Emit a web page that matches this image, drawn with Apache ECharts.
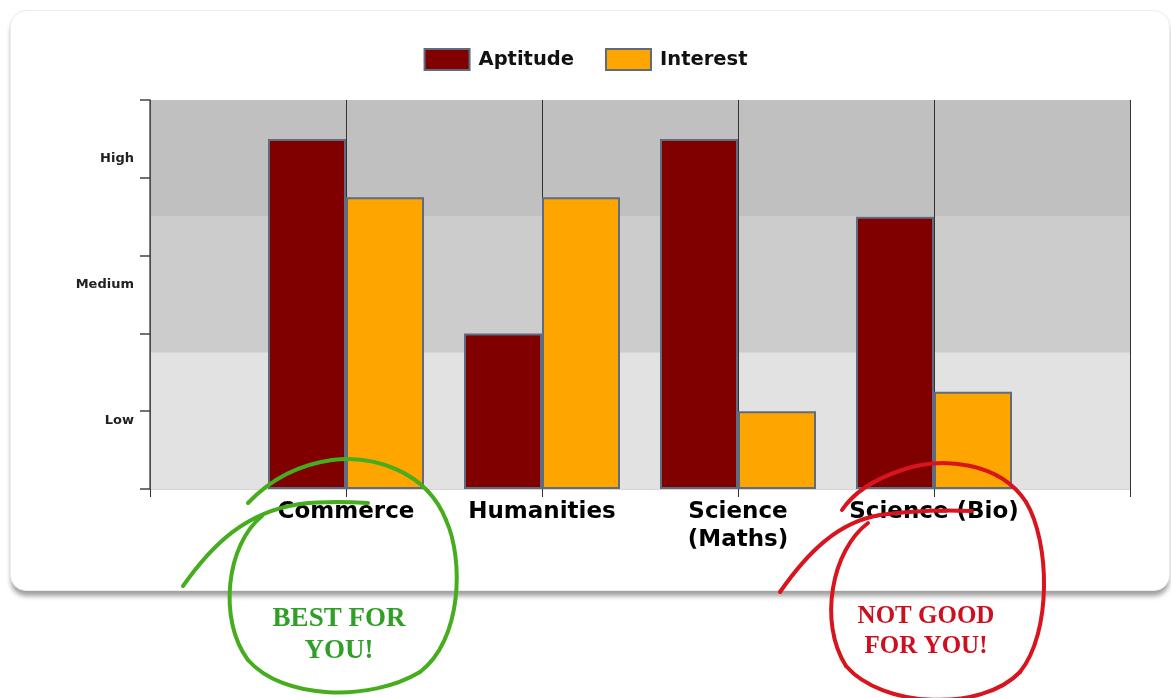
<!DOCTYPE html>
<html>
<head>
<meta charset="utf-8">
<script src="https://cdn.jsdelivr.net/npm/echarts@6/dist/echarts.min.js"></script>
<style>
  html, body { margin: 0; padding: 0; background: #ffffff; width: 1171px; height: 698px; overflow: hidden; }
  #card { position: absolute; left: 10px; top: 10px; width: 1158px; height: 579px; background: #fff;
          border: 1px solid #ececec; border-radius: 16px; box-shadow: 0 6px 5px -1px rgba(0,0,0,0.38); }
  #chart { position: absolute; left: 0; top: 0; width: 1171px; height: 698px; }
</style>
</head>
<body>
<div id="card"></div>
<div id="chart"></div>
<script>
// ---- data ----
const categories = ['Commerce', 'Humanities', 'Science\n(Maths)', 'Science (Bio)'];
const aptitude = [90, 40, 90, 70];
const interest = [75, 75, 20, 25];
const levelNames = ['Low', 'Medium', 'High'];
const levelBounds = [0, 35, 70, 100];
const levelLabelValues = [17.5, 52.5, 85];
const levelColors = ['#e3e2e3', '#cccccc', '#c0c0c0'];

// padded categories (empty slot at each end)
const cats = [''].concat(categories, ['']);
const pad = arr => [null].concat(arr, [null]);

const bands = levelNames.map((n, i) => [
  { yAxis: levelBounds[i], itemStyle: { color: levelColors[i] } },
  { yAxis: levelBounds[i + 1] }
]);

// hand-drawn annotation strokes -> bezier segments
function strokes(d, color) {
  const t = d.replace(/,/g, ' ').trim().split(/\s+/);
  const out = [];
  let i = 0, cx = 0, cy = 0, cmd = '';
  while (i < t.length) {
    if (/[MCL]/.test(t[i])) cmd = t[i++];
    const n = () => parseFloat(t[i++]);
    const st = { stroke: color, lineWidth: 4, fill: null, lineCap: 'round' };
    if (cmd === 'M') { cx = n(); cy = n(); }
    else if (cmd === 'C') {
      const a = n(), b = n(), c = n(), e = n(), x = n(), y = n();
      out.push({ type: 'bezierCurve', z: 100, silent: true,
        shape: { x1: cx, y1: cy, cpx1: a, cpy1: b, cpx2: c, cpy2: e, x2: x, y2: y }, style: st });
      cx = x; cy = y;
    } else if (cmd === 'L') {
      const x = n(), y = n();
      out.push({ type: 'line', z: 100, silent: true, shape: { x1: cx, y1: cy, x2: x, y2: y }, style: st });
      cx = x; cy = y;
    } else i++;
  }
  return out;
}

const green = '#46ad1f', red = '#d8141e';
const graphics = [].concat(
  strokes('M 183 586 C 212 545 245 512 300 504 C 325 501 350 502 368 503', green),
  strokes('M 262 516 C 226 545 218 620 248 660 C 283 700 370 702 420 672 C 462 640 464 560 446 520 C 426 470 372 455 332 460 C 296 465 268 482 248 503', green),
  strokes('M 780 592 C 808 552 838 522 880 515 C 915 510 950 510 972 511', red),
  strokes('M 868 523 C 832 550 818 622 846 666 C 882 708 982 712 1020 672 C 1052 632 1050 542 1026 502 C 1000 462 942 456 902 470 C 872 480 852 495 842 510', red),
  [
    { type: 'text', z: 100, x: 339, y: 635, silent: true,
      style: { text: 'BEST FOR\nYOU!', align: 'center', verticalAlign: 'middle',
               font: 'bold 27px "Liberation Serif"', lineHeight: 32, fill: '#2f9f27' } },
    { type: 'text', z: 100, x: 926, y: 632, silent: true,
      style: { text: 'NOT GOOD\nFOR YOU!', align: 'center', verticalAlign: 'middle',
               font: 'bold 25px "Liberation Serif"', lineHeight: 30, fill: '#cc1020' } }
  ]
);

const chart = echarts.init(document.getElementById('chart'));
const barBorder = '#5f6b7f';
chart.setOption({
  backgroundColor: 'transparent',
  animation: false,
  legend: {
    data: ['Aptitude', 'Interest'],
    top: 43,
    left: 'center',
    itemWidth: 45,
    itemHeight: 21,
    itemGap: 31,
    icon: 'rect',
    textStyle: { fontFamily: 'DejaVu Sans', fontWeight: 'bold', fontSize: 19.5, color: '#111', padding: [0, 0, 0, 4] }
  },
  grid: { left: 150, right: 41, top: 100, bottom: 209, containLabel: false },
  xAxis: {
    type: 'category',
    data: cats,
    boundaryGap: false,
    z: 1.5,
    axisLine: { show: true, lineStyle: { color: '#d6d6d6', width: 1 } },
    axisTick: { show: true, length: 8, interval: 0, lineStyle: { color: '#333', width: 1 } },
    splitLine: { show: true, interval: 0, lineStyle: { color: '#333', width: 1 } },
    axisLabel: {
      interval: 0, margin: 9,
      fontFamily: 'DejaVu Sans', fontWeight: 'bold', fontSize: 23, lineHeight: 28, color: '#000'
    }
  },
  yAxis: {
    type: 'value',
    min: 0, max: 100, interval: 20,
    z: 1.5,
    axisLine: { show: true, lineStyle: { color: '#555', width: 1.5 } },
    axisTick: { show: true, inside: false, length: 10, lineStyle: { color: '#444', width: 1.5 } },
    splitLine: { show: false },
    axisLabel: {
      customValues: levelLabelValues,
      formatter: v => levelNames[levelLabelValues.indexOf(v)] || '',
      margin: 16,
      fontFamily: 'DejaVu Sans', fontWeight: 'bold', fontSize: 13, color: '#222'
    }
  },
  series: [
    {
      name: 'bands', type: 'line', data: [], clip: false, silent: true,
      markArea: { silent: true, z: 1, label: { show: false }, data: bands }
    },
    {
      name: 'Aptitude', type: 'bar', data: pad(aptitude), barWidth: 78, barGap: '0%', z: 2,
      itemStyle: { color: '#800000', borderColor: barBorder, borderWidth: 2 }
    },
    {
      name: 'Interest', type: 'bar', data: pad(interest), barWidth: 78, barGap: '0%', z: 2,
      itemStyle: { color: '#ffa500', borderColor: barBorder, borderWidth: 2 }
    }
  ],
  graphic: graphics
});
</script>
</body>
</html>
